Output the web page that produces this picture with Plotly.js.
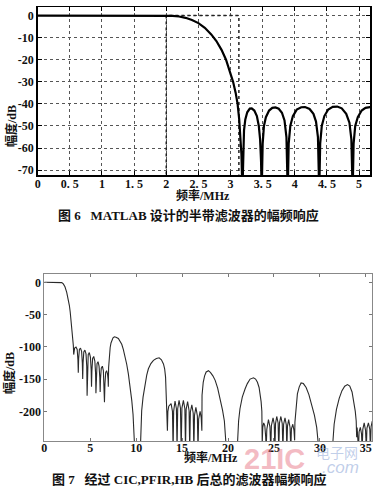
<!DOCTYPE html>
<html>
<head>
<meta charset="utf-8">
<script src="https://cdn.plot.ly/plotly-3.0.1.min.js"></script>
<style>
html,body{margin:0;padding:0;background:#fff;}
#chart{width:377px;height:486px;}
</style>
</head>
<body>
<div id="chart"></div>
<script>
// ---------- Figure 6: half-band filter magnitude response (MATLAB) ----------
var hbFreq = [0, 1.0, 2.0, 2.1, 2.2, 2.3, 2.4, 2.5, 2.6, 2.7, 2.78, 2.86, 2.93, 2.99, 3.04, 3.08, 3.11, 3.135, 3.155, 3.17, 3.185,
  3.195, 3.21, 3.23, 3.26, 3.30, 3.33, 3.37, 3.41, 3.44, 3.46, 3.475, 3.485,
  3.50, 3.52, 3.55, 3.60, 3.65, 3.70, 3.75, 3.80, 3.84, 3.87, 3.89,
  3.905, 3.93, 3.97, 4.03, 4.10, 4.16, 4.23, 4.29, 4.33, 4.36, 4.38,
  4.395, 4.42, 4.46, 4.52, 4.59, 4.66, 4.73, 4.80, 4.85, 4.88, 4.90,
  4.915, 4.94, 4.98, 5.04, 5.10, 5.17, 5.22];
var hbDb = [0, 0, 0, -0.1, -0.4, -1.0, -2.0, -3.4, -5.5, -8.5, -11.5, -15.5, -20, -25, -30, -35, -40, -47, -55, -63, -80,
  -60, -52, -47, -43.8, -42.1, -42, -43, -45.5, -50, -56, -66, -80,
  -58, -50, -46, -43, -41.8, -41.6, -42.2, -44, -47.5, -55, -80,
  -58, -50, -45.5, -42.6, -41.5, -41.4, -42.3, -44.5, -48, -55, -80,
  -58, -50, -45.5, -42.5, -41.3, -41.2, -42, -44.5, -48.5, -56, -80,
  -58, -50, -46, -43, -41.8, -41.4, -41.5];
// ideal (dotted) response box
var specFreq = [2, 2, 3.13, 3.13];
var specDb = [-72, 0, 0, -72];
var fig6XTicks = [0, 0.5, 1, 1.5, 2, 2.5, 3, 3.5, 4, 4.5, 5];
var fig6XText = ["0", "0. 5", "1", "1. 5", "2", "2. 5", "3", "3. 5", "4", "4. 5", "5"];
var fig6YTicks = [0, -10, -20, -30, -40, -50, -60, -70];
var fig6YText = ["0", "-10", "-20", "-30", "-40", "-50", "-60", "-70"];

// ---------- Figure 7: total response after CIC, PFIR, HB ----------
var totFreq = [0, 1.0, 1.7, 1.9, 2.07, 2.25, 2.44, 2.6, 2.73, 2.82, 2.91, 2.98, 3.05, 3.1, 3.16,
  3.2, 3.3, 3.45, 3.58, 3.66, 3.7, 3.74, 3.82, 3.94, 4.06, 4.14, 4.18, 4.22, 4.3, 4.42, 4.54, 4.62, 4.66, 4.7, 4.78, 4.9,
  5.02, 5.1, 5.14, 5.18, 5.26, 5.38, 5.5, 5.58, 5.62, 5.66, 5.74, 5.85, 5.96, 6.04, 6.08, 6.12, 6.2, 6.32, 6.43, 6.5, 6.55,
  6.6, 6.68, 6.78, 6.88, 6.94, 6.97,
  7.0, 7.08, 7.17, 7.26, 7.35, 7.48, 7.63, 7.8, 8.06, 8.25, 8.43, 8.6, 8.79, 8.97, 9.15, 9.33, 9.52, 9.66, 9.8, 9.88,
  10.43, 10.5, 10.6, 10.75, 10.97, 11.15, 11.33, 11.6, 11.88, 12.2, 12.5, 12.75, 12.97, 13.1, 13.2, 13.24,
  13.3, 13.33, 13.4, 13.45, 13.55, 13.8, 13.95, 14.02, 14.08, 14.23, 14.38, 14.45, 14.52, 14.67, 14.82, 14.9, 14.98,
  15.14, 15.3, 15.37, 15.44, 15.6, 15.76, 15.83, 15.9, 16.06, 16.21, 16.28, 16.35, 16.5, 16.66, 16.73, 16.8, 16.96, 17.08, 17.15,
  17.17, 17.3, 17.45, 17.62, 17.87, 18.1, 18.35, 18.6, 18.87, 19.14, 19.4, 19.6, 19.75, 19.87,
  20.96, 21.05, 21.15, 21.3, 21.55, 21.86, 22.1, 22.4, 22.77, 23.0, 23.2, 23.38, 23.5, 23.6, 23.68,
  23.72, 23.78, 23.88, 24.0, 24.1, 24.15, 24.22, 24.4, 24.56, 24.65, 24.72, 24.9, 25.03, 25.1, 25.17, 25.3, 25.45, 25.52,
  25.6, 25.75, 25.9, 25.97, 26.05, 26.2, 26.34, 26.4, 26.47, 26.6, 26.75, 26.83, 26.9, 27.05, 27.18, 27.25,
  27.28, 27.4, 27.55, 27.75, 27.95, 28.2, 28.5, 28.8, 29.1, 29.4, 29.65, 29.85, 29.96,
  31.3, 31.4, 31.55, 31.8, 32.1, 32.4, 32.7, 33.0, 33.25, 33.5, 33.7, 33.85, 33.95, 34.0,
  34.05, 34.2, 34.26, 34.4, 34.53, 34.6, 34.67, 34.82, 34.97, 35.05, 35.12, 35.28, 35.43, 35.5, 35.57, 35.7];
var totDb = [0, 0, 0, -0.5, -2.5, -7, -15.5, -25, -36, -46, -57, -67, -77.5, -86, -98,
  -112, -102, -100.5, -104, -120, -140, -118, -104, -102, -107, -125, -150, -125, -108, -105, -111, -130, -176, -132, -112, -109,
  -116, -135, -162, -138, -118, -115, -122, -140, -172, -145, -126, -123, -130, -147, -170, -150, -133, -130, -137, -155, -186,
  -158, -140, -137, -142, -150, -162,
  -132, -112, -101, -94, -89.5, -86, -84.5, -85, -87, -91, -96, -104, -114, -127, -142, -160, -183, -205, -235, -270,
  -270, -230, -199, -178, -157, -144, -134, -126, -121, -118, -117, -120, -126.5, -134, -147, -178,
  -165, -200, -230, -200, -192, -188, -200, -260, -200, -184, -196, -260, -196, -183, -195, -260, -195,
  -183, -196, -260, -197, -185, -199, -260, -201, -190, -203, -260, -206, -194, -207, -260, -212, -200, -210, -230,
  -175, -155, -145, -139, -137, -140, -145, -152, -164, -180, -198, -215, -235, -270,
  -270, -240, -215, -196, -178, -165, -157, -150, -148, -150, -155, -163, -173, -185, -200,
  -250, -225, -218, -222, -240, -260, -228, -213, -224, -260, -222, -210, -220, -260, -219, -208, -218, -260,
  -218, -208, -219, -260, -220, -210, -221, -260, -223, -213, -225, -260, -227, -220, -230, -245,
  -217, -190, -173, -162, -156, -157, -163, -174, -188, -206, -225, -245, -270,
  -270, -245, -220, -197, -180, -168, -161, -158.5, -161, -170, -184, -200, -215, -240,
  -225, -260, -232, -225, -235, -260, -228, -218, -230, -260, -226, -218, -228, -260, -224, -215];
var fig7XTicks = [0, 5, 10, 15, 20, 25, 30, 35];
var fig7XText = ["0", "5", "10", "15", "20", "25", "30", "35"];
var fig7YTicks = [0, -50, -100, -150, -200];
var fig7YText = ["0", "-50", "-100", "-150", "-200"];

var W = 377, H = 486;
function px(x) { return x / W; }
function py(y) { return 1 - y / H; }

var tickFont = {family: "Liberation Serif, 'Noto Sans CJK SC', serif", size: 12, color: "#111", weight: "bold"};
var cjkFont = {family: "Liberation Serif, 'Noto Sans CJK SC', serif", size: 12, color: "#111", weight: "bold"};

var traces = [
  {x: specFreq, y: specDb, xaxis: "x", yaxis: "y", mode: "lines",
   line: {color: "#222", width: 1.5, dash: "dot"}, hoverinfo: "skip", showlegend: false},
  {x: hbFreq, y: hbDb, xaxis: "x", yaxis: "y", mode: "lines",
   line: {color: "#000", width: 2.2}, showlegend: false},
  {x: totFreq, y: totDb, xaxis: "x2", yaxis: "y2", mode: "lines",
   line: {color: "#2a2a2a", width: 1.1}, showlegend: false}
];

var layout = {
  width: W, height: H,
  margin: {l: 0, r: 0, t: 0, b: 0},
  paper_bgcolor: "#fff", plot_bgcolor: "#fff",
  showlegend: false,
  xaxis: {
    domain: [px(37.7), px(370)], anchor: "y", range: [0, 5.17],
    tickvals: fig6XTicks, ticktext: fig6XText, tickfont: tickFont,
    ticks: "inside", ticklen: 4, tickcolor: "#000", mirror: "ticks",
    ticklabelstandoff: -3,
    showline: true, linecolor: "#000", linewidth: 1.5,
    showgrid: true, gridcolor: "#555", gridwidth: 1, griddash: "dot",
    zeroline: false, fixedrange: true
  },
  yaxis: {
    domain: [py(175), py(7)], anchor: "x", range: [-72.2, 3.9],
    tickvals: fig6YTicks, ticktext: fig6YText, tickfont: tickFont,
    ticks: "inside", ticklen: 4, tickcolor: "#000", mirror: "ticks",
    showline: true, linecolor: "#000", linewidth: 1.5,
    showgrid: true, gridcolor: "#555", gridwidth: 1, griddash: "dot",
    zeroline: false, fixedrange: true
  },
  xaxis2: {
    domain: [px(44.3), px(372)], anchor: "y2", range: [0, 35.67],
    tickvals: fig7XTicks, ticktext: fig7XText, tickfont: tickFont,
    ticks: "inside", ticklen: 3, tickcolor: "#777", mirror: "ticks",
    ticklabelstandoff: -4,
    showline: true, linecolor: "#888", linewidth: 1,
    showgrid: false, zeroline: false, fixedrange: true
  },
  yaxis2: {
    domain: [py(441), py(274)], anchor: "x2", range: [-246, 12.9],
    tickvals: fig7YTicks, ticktext: fig7YText, tickfont: tickFont,
    ticks: "inside", ticklen: 3, tickcolor: "#777", mirror: "ticks",
    showline: true, linecolor: "#888", linewidth: 1,
    showgrid: false, zeroline: false, fixedrange: true
  },
  annotations: [
    {text: "幅度/dB", xref: "paper", yref: "paper", x: px(11), y: py(126), textangle: -90,
     showarrow: false, font: cjkFont, xanchor: "center", yanchor: "middle"},
    {text: "频率/MHz", xref: "paper", yref: "paper", x: px(203), y: py(195),
     showarrow: false, font: cjkFont, xanchor: "center", yanchor: "middle"},
    {text: "图 6   MATLAB 设计的半带滤波器的幅频响应", xref: "paper", yref: "paper", x: px(188), y: py(215),
     showarrow: false, font: {family: "Liberation Serif, 'Noto Sans CJK SC', serif", size: 13, color: "#111", weight: "bold"},
     xanchor: "center", yanchor: "middle"},
    {text: "幅度/dB", xref: "paper", yref: "paper", x: px(9), y: py(373), textangle: -90,
     showarrow: false, font: cjkFont, xanchor: "center", yanchor: "middle"},
    {text: "频率/MHz", xref: "paper", yref: "paper", x: px(211), y: py(457),
     showarrow: false, font: cjkFont, xanchor: "center", yanchor: "middle"},
    {text: "21IC", xref: "paper", yref: "paper", x: px(274), y: py(459),
     showarrow: false, font: {family: "Liberation Sans, sans-serif", size: 29, color: "rgba(232,120,135,0.5)", weight: "bold"},
     xanchor: "center", yanchor: "middle"},
    {text: "电子网", xref: "paper", yref: "paper", x: px(337), y: py(452),
     showarrow: false, font: {family: "'Noto Sans CJK SC', sans-serif", size: 14, color: "rgba(140,165,215,0.55)"},
     xanchor: "center", yanchor: "middle"},
    {text: "<i>.com</i>", xref: "paper", yref: "paper", x: px(340), y: py(467),
     showarrow: false, font: {family: "Liberation Sans, sans-serif", size: 17, color: "rgba(140,165,215,0.55)"},
     xanchor: "center", yanchor: "middle"},
    {text: "图 7   经过 CIC,PFIR,HB 后总的滤波器幅频响应", xref: "paper", yref: "paper", x: px(189), y: py(479),
     showarrow: false, font: {family: "Liberation Serif, 'Noto Sans CJK SC', serif", size: 13, color: "#111", weight: "bold"},
     xanchor: "center", yanchor: "middle"}
  ]
};

Plotly.newPlot("chart", traces, layout, {staticPlot: true, displayModeBar: false});
</script>
</body>
</html>
